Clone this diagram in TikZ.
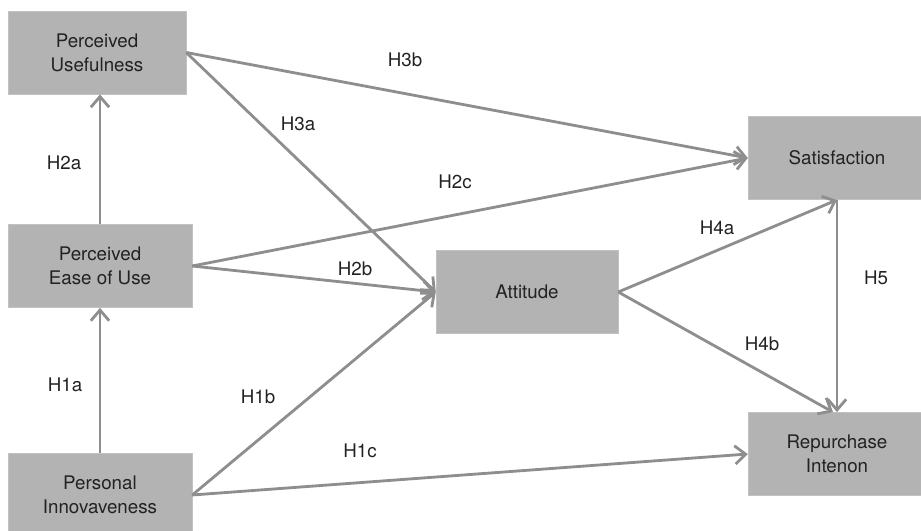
\documentclass[tikz,border=0pt]{standalone}
\usepackage{fontspec}
\setmainfont{TeX Gyre Heros}
\usetikzlibrary{arrows.meta, positioning, calc}
\definecolor{boxgray}{HTML}{B3B3B3}
\definecolor{linegray}{HTML}{8E8E8E}
\definecolor{txt}{HTML}{222222}
\tikzset{box/.style = {fill=boxgray, draw=boxgray!80!white, thin, text=txt, align=center, inner sep=0pt, minimum height=2.5cm, font=\fontsize{16}{20.5}\selectfont}}
\tikzset{path/.style = {draw=linegray, line width=2.4pt, -{Straight Barb[length=3.2mm, width=5.5mm, line width=2.4pt]}}}
\tikzset{hyp/.style = {text=txt, inner sep=1pt, font=\fontsize{16}{18}\selectfont}}

\begin{document}
\begin{tikzpicture}[x=0.03cm, y=-0.03cm]
		\useasboundingbox (0,0) rectangle (921,530);
		\node[box, minimum width=5.34cm] (pu) at (97,52.5) {Perceived\\Usefulness};
		\node[box, minimum width=5.52cm] (peu) at (100,266) {Perceived\\Ease of Use};
		\node[box, minimum width=5.52cm] (pi) at (100,495) {Personal\\Innovaveness};
		\node[box, minimum width=5.46cm] (att) at (527,292) {Attitude};
		\node[box, minimum width=5.34cm] (sat) at (837,158) {Satisfaction};
		\node[box, minimum width=5.34cm] (rep) at (837,454) {Repurchase\\Intenon};
		% hypotheses
		\draw[path] (peu.north) -- (peu.north |- pu.south);
		\draw[path] (pi.north) -- (peu.south);
		\draw[path] (pu.east) -- (sat.west);
		\draw[path] (pu.east) -- (att.west);
		\draw[path] (peu.east) -- (sat.west);
		\draw[path] (peu.east) -- (att.west);
		\draw[path] (pi.east) -- (att.west);
		\draw[path] (pi.east) -- (rep.west);
		\draw[path] (att.east) -- (sat.south);
		\draw[path] (att.east) -- ($(rep.north)+(-4,0)$);
		\draw[path] (sat.south) -- (rep.north);
		\foreach \name/\x/\y in {H3b/405/60, H3a/298/124, H2a/64/163, H2c/455/182, H2b/355/269, H4a/717/228, H5/876/278, H4b/762/344, H1a/65/385, H1b/258/397, H1c/360/451}
			{ \node[hyp] (\name) at (\x,\y) {\name}; }
	\end{tikzpicture}
\end{document}
